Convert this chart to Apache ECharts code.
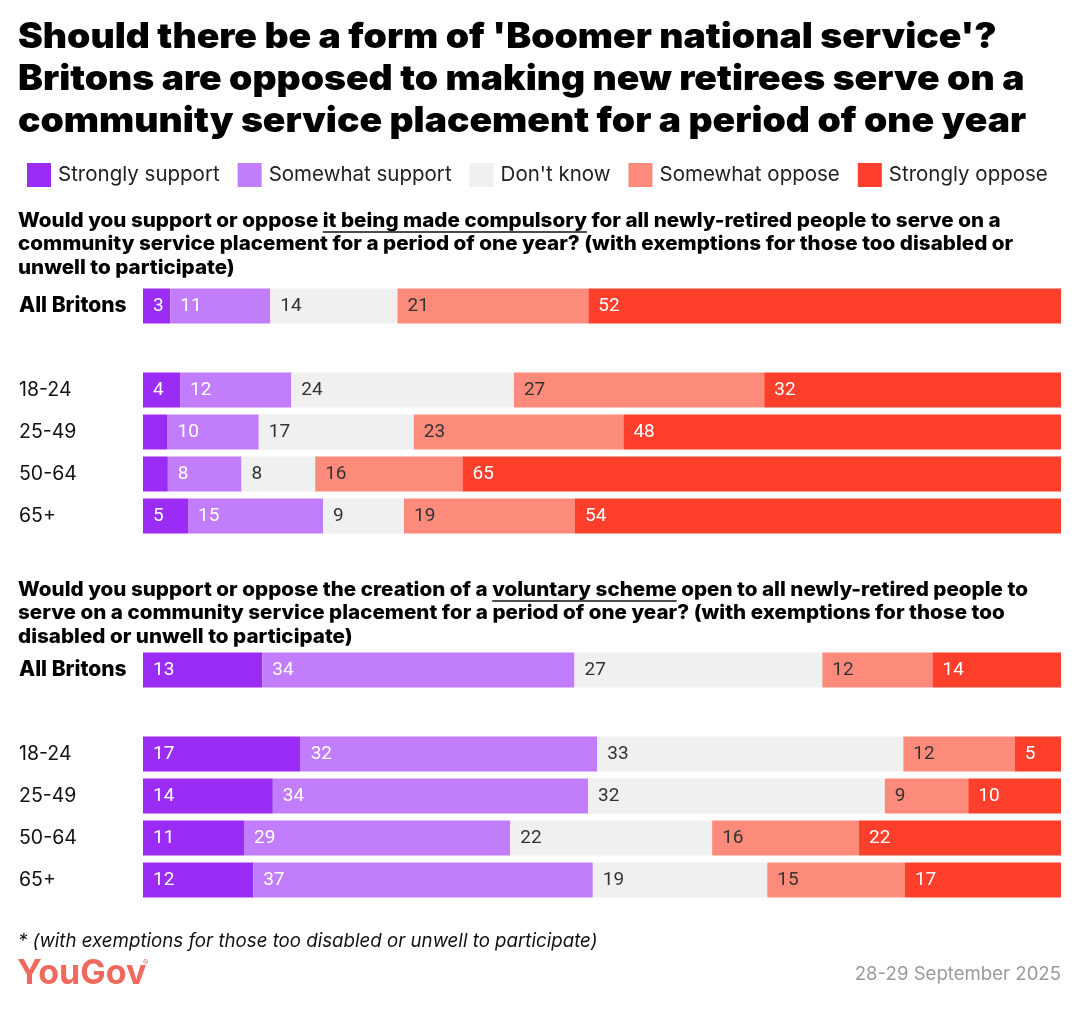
<!DOCTYPE html>
<html>
<head>
<meta charset="utf-8">
<script src="https://cdn.jsdelivr.net/npm/echarts@6/dist/echarts.min.js"></script>
<style>
  html, body { margin: 0; padding: 0; background: #fff; }
  #chart { width: 1080px; height: 1010px; }
</style>
</head>
<body>
<div id="chart"></div>
<script>
// 数据
const segments = ['Strongly support', 'Somewhat support', "Don't know", 'Somewhat oppose', 'Strongly oppose'];
const groups = ['All Britons', '18-24', '25-49', '50-64', '65+'];

// compulsory scheme (unlabelled slivers estimated from width)
const compStrongSupport = [3, 4, 2.7, 2.7, 5];
const compSomeSupport = [11, 12, 10, 8, 15];
const compDontKnow = [14, 24, 17, 8, 9];
const compSomeOppose = [21, 27, 23, 16, 19];
const compStrongOppose = [52, 32, 48, 65, 54];

// voluntary scheme
const volStrongSupport = [13, 17, 14, 11, 12];
const volSomeSupport = [34, 32, 34, 29, 37];
const volDontKnow = [27, 33, 32, 22, 19];
const volSomeOppose = [12, 12, 9, 16, 15];
const volStrongOppose = [14, 5, 10, 22, 17];

const colors = ['#9b2cf6', '#c27dfd', '#f0f0f0', '#fd8b7b', '#fd3f2c'];
const labelColors = ['#ffffff', '#ffffff', '#333333', '#333333', '#ffffff'];

const compData = [compStrongSupport, compSomeSupport, compDontKnow, compSomeOppose, compStrongOppose];
const volData = [volStrongSupport, volSomeSupport, volDontKnow, volSomeOppose, volStrongOppose];

// 类目（All Britons 后空一行）
const axisCats = [groups[0], ''].concat(groups.slice(1));

const titleFont = 'Inter, "Noto Sans", sans-serif';
const numFont = 'Roboto, "Noto Sans", sans-serif';

let myChart = echarts.init(document.getElementById('chart'), null, { renderer: 'canvas' });

// 每行归一化成 100
function buildSeries(data, gridIdx) {
  return data.map(function(vals, s) {
    let items = [];
    vals.forEach(function(v, r) {
      let total = 0;
      data.forEach(function(arr) { total += arr[r]; });
      items.push({ value: v / total * 100, raw: v });
      if (r === 0) items.push('-');
    });
    return {
      name: segments[s],
      type: 'bar',
      stack: 'g' + gridIdx,
      xAxisIndex: gridIdx,
      yAxisIndex: gridIdx,
      barWidth: 35,
      itemStyle: { color: colors[s] },
      label: {
        show: true,
        position: 'insideLeft',
        distance: 10,
        color: labelColors[s],
        fontFamily: numFont,
        fontSize: 19,
        formatter: function(p) {
          return p.data.raw >= 3 ? Math.round(p.data.raw) : '';
        }
      },
      emphasis: { disabled: true },
      data: items
    };
  });
}

function yAxisFor(gridIdx) {
  return {
    type: 'category',
    gridIndex: gridIdx,
    inverse: true,
    data: axisCats,
    axisLine: { show: false },
    axisTick: { show: false },
    axisLabel: {
      margin: 124,
      align: 'left',
      fontFamily: titleFont,
      fontSize: 19.5,
      color: '#111',
      formatter: function(v) {
        return v === 'All Britons' ? '{b|' + v + '}' : v;
      },
      rich: { b: { fontWeight: 800, fontFamily: titleFont, fontSize: 21, color: '#000' } }
    }
  };
}

function xAxisFor(gridIdx) {
  return { type: 'value', gridIndex: gridIdx, min: 0, max: 100, show: false };
}

// 下划线用 canvas 量字宽
const qFont = '800 19.5px ' + titleFont;
const qScale = 1.057;
const measurer = document.createElement('canvas').getContext('2d');
measurer.font = qFont;
function underline(prefix, word, x, y) {
  let x0 = x + measurer.measureText(prefix).width * qScale;
  let x1 = x0 + measurer.measureText(word).width * qScale;
  return {
    type: 'line',
    shape: { x1: x0, y1: y, x2: x1, y2: y },
    style: { stroke: '#111', lineWidth: 1.5 }
  };
}

function textEl(text, x, y, font, fill, align, sx) {
  return {
    type: 'text',
    x: x,
    y: y,
    scaleX: sx || 1,
    style: {
      text: text, x: 0, y: 0, font: font, fill: fill,
      textAlign: align || 'left', align: align || 'left',
      textVerticalAlign: 'middle', verticalAlign: 'middle'
    }
  };
}

const titleLines = [
  "Should there be a form of 'Boomer national service'?",
  'Britons are opposed to making new retirees serve on a',
  'community service placement for a period of one year'
];
const q1Lines = [
  'Would you support or oppose it being made compulsory for all newly-retired people to serve on a',
  'community service placement for a period of one year? (with exemptions for those too disabled or',
  'unwell to participate)'
];
const q2Lines = [
  'Would you support or oppose the creation of a voluntary scheme open to all newly-retired people to',
  'serve on a community service placement for a period of one year? (with exemptions for those too',
  'disabled or unwell to participate)'
];

let graphics = [];
titleLines.forEach(function(t, i) {
  graphics.push(textEl(t, 18, 37 + i * 42, '900 35px ' + titleFont, '#000', 'left', 1.067));
});
q1Lines.forEach(function(t, i) {
  graphics.push(textEl(t, 18, 221 + i * 23.5, qFont, '#000', 'left', qScale));
});
q2Lines.forEach(function(t, i) {
  graphics.push(textEl(t, 18, 590 + i * 23.5, qFont, '#000', 'left', qScale));
});
graphics.push(underline('Would you support or oppose ', 'it being made compulsory', 18, 232));
graphics.push(underline('Would you support or oppose the creation of a ', 'voluntary scheme', 18, 601));
graphics.push(textEl('* (with exemptions for those too disabled or unwell to participate)', 18, 941, 'italic 18.7px ' + titleFont, '#111'));
graphics.push(textEl('YouGov', 17, 974, 'bold 34px ' + titleFont, '#ef6a5d'));
graphics.push(textEl('®', 143, 963, '8px ' + titleFont, '#ef6a5d'));
graphics.push(textEl('28-29 September 2025', 1061, 974, '18.6px ' + titleFont, '#9a9a9a', 'right'));

let option = {
  backgroundColor: '#ffffff',
  animation: false,
  color: colors,
  legend: {
    data: segments,
    left: 27,
    top: 163,
    padding: 0,
    icon: 'rect',
    itemWidth: 24,
    itemHeight: 24,
    itemGap: 18,
    selectedMode: false,
    textStyle: { fontFamily: titleFont, fontSize: 20.5, color: '#222', padding: [0, 0, 0, 2] }
  },
  grid: [
    { left: 143, right: 19, top: 285, height: 252 },
    { left: 143, right: 19, top: 649, height: 252 }
  ],
  xAxis: [xAxisFor(0), xAxisFor(1)],
  yAxis: [yAxisFor(0), yAxisFor(1)],
  series: buildSeries(compData, 0).concat(buildSeries(volData, 1)),
  graphic: graphics
};

myChart.setOption(option);

window.addEventListener('resize', function() {
  myChart.resize();
});
</script>
</body>
</html>
